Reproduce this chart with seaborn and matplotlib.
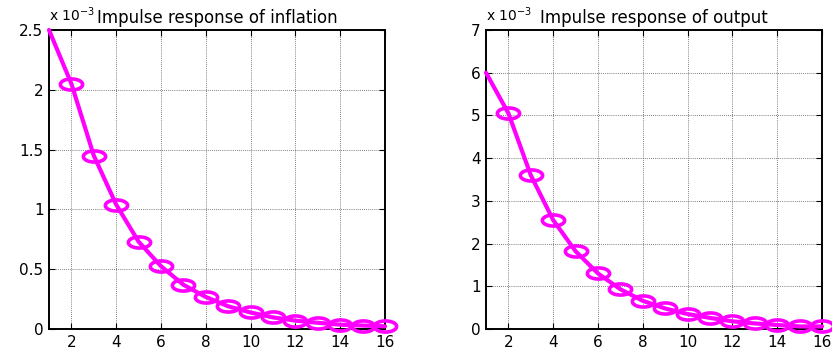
import numpy as np
import pandas as pd
import matplotlib
matplotlib.use("Agg")
import matplotlib.pyplot as plt
from matplotlib.path import Path
import seaborn as sns

sns.set_style("white")
plt.rcParams['font.family'] = ['DejaVu Sans']
plt.rcParams['text.color'] = 'black'
plt.rcParams['xtick.color'] = 'black'
plt.rcParams['ytick.color'] = 'black'

periods = list(range(1, 17))
inflation = [2.50, 2.05, 1.45, 1.04, 0.73, 0.525, 0.37, 0.268, 0.19, 0.138,
             0.097, 0.07, 0.052, 0.036, 0.029, 0.022]   # x 1e-3
output = [6.00, 5.05, 3.60, 2.55, 1.82, 1.30, 0.93, 0.66, 0.48, 0.35,
          0.26, 0.18, 0.13, 0.094, 0.06, 0.06]            # x 1e-3
titles = ["Impulse response of inflation", "Impulse response of output"]
yticks_list = [[0, 0.5, 1, 1.5, 2, 2.5], [0, 1, 2, 3, 4, 5, 6, 7]]
yticklabels_list = [["0", "0.5", "1", "1.5", "2", "2.5"],
                    ["0", "1", "2", "3", "4", "5", "6", "7"]]
ylims = [(0, 2.5), (0, 7)]
xticks = [2, 4, 6, 8, 10, 12, 14, 16]

t = np.linspace(0, 2 * np.pi, 64)
ellipse = Path(np.column_stack([np.cos(t), 0.5 * np.sin(t)]), closed=True)

fig = plt.figure(figsize=(8.32, 3.49), dpi=100)
axes = [fig.add_axes([49/832, 1-329/349, 336/832, 299/349]),
        fig.add_axes([486/832, 1-329/349, 336/832, 299/349])]

for ax, vals, title, yt, ytl, yl in zip(axes, [inflation, output], titles,
                                         yticks_list, yticklabels_list, ylims):
    df = pd.DataFrame({"period": periods, "value": vals})
    sns.lineplot(data=df, x="period", y="value", ax=ax, color="#ff00ff",
                 linewidth=3.0, zorder=3)
    sns.lineplot(data=df[df.period >= 2], x="period", y="value", ax=ax,
                 color="#ff00ff", linestyle="None", marker=ellipse,
                 markersize=16, markerfacecolor="none",
                 markeredgecolor="#ff00ff", markeredgewidth=2.6, zorder=4)
    ax.set_xlim(1, 16)
    ax.set_ylim(*yl)
    ax.set_xticks(xticks)
    ax.set_xticklabels([str(v) for v in xticks])
    ax.set_yticks(yt)
    ax.set_yticklabels(ytl)
    ax.set_xlabel("")
    ax.set_ylabel("")
    ax.grid(True, color="#555555", linestyle=(0, (1, 1.5)), linewidth=0.6)
    ax.tick_params(direction="in", length=4, width=0.8, labelsize=11,
                   top=True, right=True, bottom=True, left=True, pad=4,
                   colors="black")
    for sp in ax.spines.values():
        sp.set_color("black")
        sp.set_linewidth(1.4)
        sp.set_visible(True)
    ax.set_title(title, fontsize=12, pad=5, color="black")
    ax.text(0.0, 1.02, r"x 10$^{-3}$", transform=ax.transAxes,
            fontsize=10, ha="left", va="bottom", color="black")
    for ln in ax.lines:
        ln.set_clip_on(False)

fig.savefig("out.png", dpi=100)
